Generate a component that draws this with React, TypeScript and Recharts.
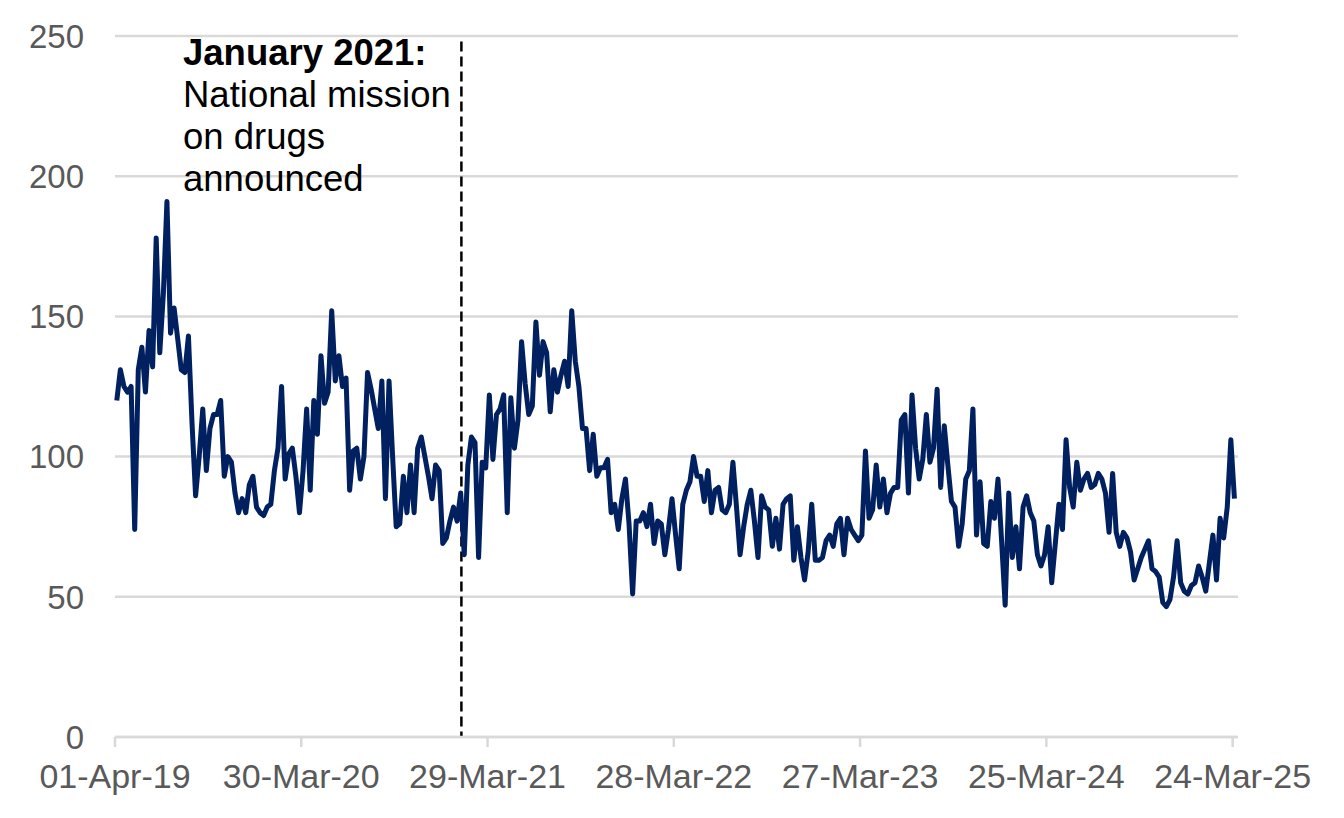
import React from "react";
import {
  LineChart,
  Line,
  XAxis,
  YAxis,
  CartesianGrid,
  ReferenceLine,
} from "recharts";

// Weekly values, week 0 = 01-Apr-19
const values: number[] = [
  120, 131, 125, 123, 125, 74, 131, 139, 123, 145, 132, 178, 137, 158, 191, 144, 153, 142, 131, 130,
  143, 112, 86, 100, 117, 95, 110, 115, 115, 120, 93, 100, 98, 87, 80, 85, 80, 90, 93, 82,
  80, 79, 82, 83, 95, 103, 125, 92, 101, 103, 93, 80, 95,
  117, 88, 120, 108, 136, 119, 123, 152, 127, 136, 125, 128, 88, 102, 103, 92, 100, 130, 124, 117, 110,
  127, 85, 127, 100, 75, 76, 93, 80, 97, 80, 103, 107, 100, 93, 85, 97, 95, 69, 71, 77, 82, 77,
  87, 65, 97, 107, 105, 64, 98, 96, 122, 99,
  115, 117, 122, 80, 121, 103, 113, 141, 126, 115, 118, 148, 129, 141, 137, 116, 131, 123, 129, 134,
  125, 152, 134, 125, 110, 110, 95, 108, 93, 96, 96, 99, 80, 83, 74, 85, 92, 76, 51, 77, 77, 80,
  75, 83, 69, 77, 76, 65,
  74, 85, 72, 60, 83, 88, 91, 100, 93, 93, 84, 95, 80, 88, 89, 81, 80, 83, 98, 82, 65, 75, 83, 88,
  77, 64, 86, 82, 81, 68, 78, 67, 83, 85, 86, 63, 75, 64, 56, 66, 83, 63, 63, 64, 70, 72, 68, 76,
  78, 65, 78, 74, 72, 70, 72, 102, 78,
  81, 97, 82, 92, 80, 87, 89, 89, 113, 115, 87, 122, 103, 92, 99, 115, 98, 103, 124, 89, 111, 97,
  84, 82, 68, 76, 92, 95, 117, 72, 91, 69, 68, 84, 78, 92, 70, 47, 87, 64, 75, 60, 82, 86, 80, 77,
  65, 61, 65, 75,
  55, 69, 83, 74, 106, 89, 82, 98, 88, 92, 94, 89, 90, 94, 92, 87, 73, 94, 73, 68, 73, 71, 66, 56,
  60, 64, 67, 70, 60, 59, 57, 48, 46.5, 49, 57, 70, 55, 52, 51, 54, 55, 61, 57, 52, 62, 72, 56, 78,
  71, 82, 106, 85,
];

const tickWeeks: number[] = [0, 52, 104, 156, 208, 260, 312];
const tickLabels: string[] = [
  "01-Apr-19",
  "30-Mar-20",
  "29-Mar-21",
  "28-Mar-22",
  "27-Mar-23",
  "25-Mar-24",
  "24-Mar-25",
];
const yTicks: number[] = [0, 50, 100, 150, 200, 250];
const annotationWeek = 96.7;

const data = values.map((v, i) => ({ week: i + 0.5, value: v }));

const FONT = "'Liberation Sans', Arial, sans-serif";

export default function App() {
  return (
    <div
      style={{
        position: "absolute",
        left: 0,
        top: 0,
        width: 1344,
        height: 818,
        background: "#fff",
        fontFamily: FONT,
      }}
    >
      <LineChart
        width={1344}
        height={818}
        data={data}
        margin={{ top: 36, right: 106, bottom: 0, left: 0 }}
      >
        <CartesianGrid
          vertical={false}
          stroke="#d9d9d9"
          strokeWidth={2.5}
        />
        <XAxis
          dataKey="week"
          type="number"
          domain={[0, 313.5]}
          ticks={tickWeeks}
          interval={0}
          tickFormatter={(w: number) => tickLabels[tickWeeks.indexOf(w)] ?? ""}
          height={81}
          axisLine={{ stroke: "#d9d9d9", strokeWidth: 2.5 }}
          tickLine={{ stroke: "#d9d9d9", strokeWidth: 2.5 }}
          tickSize={10}
          tickMargin={17}
          tick={{ fill: "#595959", fontSize: 34, fontFamily: FONT }}
        />
        <YAxis
          type="number"
          domain={[0, 250]}
          ticks={yTicks}
          interval={0}
          width={115}
          axisLine={false}
          tickLine={false}
          tickSize={0}
          tickMargin={31}
          tick={{ fill: "#595959", fontSize: 33, fontFamily: FONT }}
        />
        <ReferenceLine
          segment={[
            { x: annotationWeek, y: 248 },
            { x: annotationWeek, y: 0 },
          ]}
          stroke="#000"
          strokeWidth={2.5}
          strokeDasharray="10 5"
          ifOverflow="visible"
        />
        <Line
          type="linear"
          dataKey="value"
          stroke="#002060"
          strokeWidth={5}
          dot={false}
          activeDot={false}
          strokeLinejoin="round"
          isAnimationActive={false}
        />
      </LineChart>
      <div
        style={{
          position: "absolute",
          left: 183,
          top: 31.5,
          fontSize: 36.5,
          lineHeight: "42px",
          color: "#000",
          fontFamily: FONT,
        }}
      >
        <div style={{ fontWeight: "bold" }}>January 2021:</div>
        <div>National mission</div>
        <div>on drugs</div>
        <div>announced</div>
      </div>
    </div>
  );
}
